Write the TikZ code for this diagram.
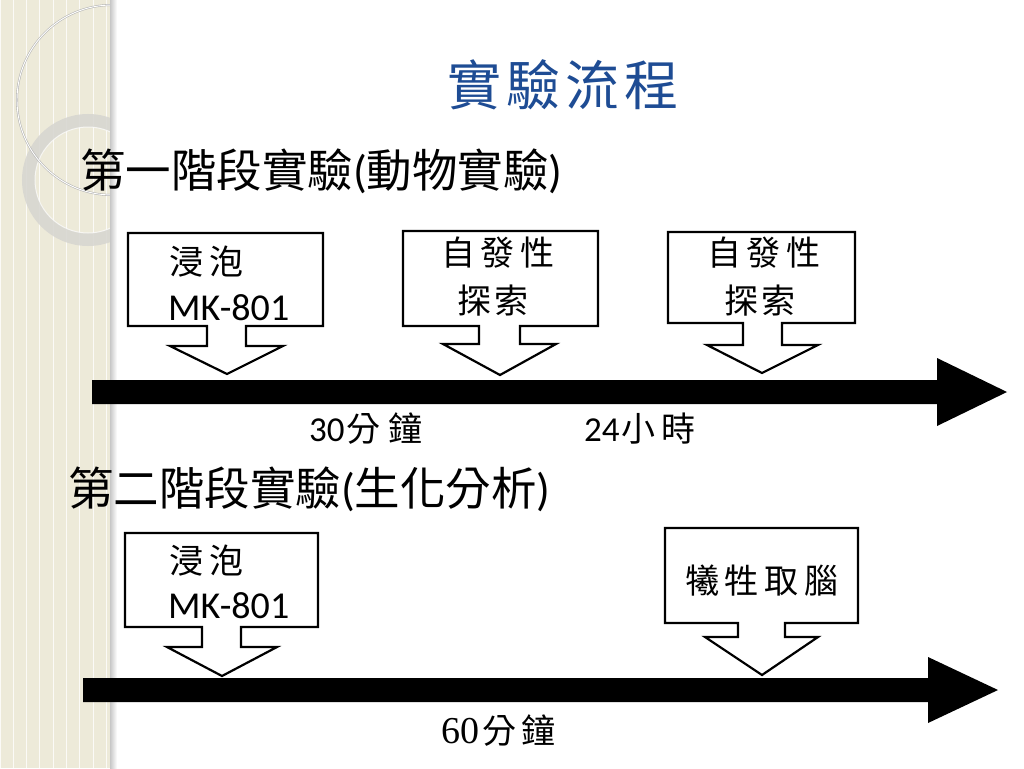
\documentclass[tikz,border=0pt]{standalone}
\usepackage{fontspec}
\setmainfont{Carlito}
\newfontfamily\cjk{Noto Sans CJK TC}
\newfontfamily\numserif{Liberation Serif}
\definecolor{stripbg}{HTML}{EDEAD9}
\definecolor{ringgray}{HTML}{D6D5D0}
\definecolor{titleblue}{HTML}{1E4C94}
\tikzset{
  callout/.style={draw=black, line width=2.2pt, fill=white, line join=miter},
  timeline/.style={fill=black},
  title/.style={font=\cjk\fontsize{54}{60}\selectfont, text=titleblue, inner sep=0pt},
  head/.style={font=\fontsize{45.5}{50}\selectfont, inner sep=0pt},
  boxtxt/.style={font=\cjk\fontsize{34}{40}\selectfont, inner sep=0pt},
  lattxt/.style={font=\fontsize{38}{42}\selectfont, inner sep=0pt},
  numtxt/.style={font=\fontsize{35}{40}\selectfont, inner sep=0pt},
}
\begin{document}
\begin{tikzpicture}[x=1pt,y=-1pt]
\useasboundingbox (0,0) rectangle (1024,768);
\fill[white] (0,0) rectangle (1024,768);
% decorative left strip
\begin{scope}
  \clip (0,0) rectangle (112,768);
  \fill[stripbg] (0,0) rectangle (112,768);
  \draw[white, line width=1.1pt, opacity=0.8] (0,0) grid[step=13.3] (112,768);
  \draw[ringgray, line width=13pt, opacity=0.85] (88,180) circle[radius=59.5];
  \draw[white, line width=1pt, opacity=0.7] (88,180) circle[radius=53];
  \draw[black!30, line width=2pt] (112,100) circle[radius=95];
  \draw[white, line width=0.9pt] (112,100) circle[radius=95];
\end{scope}
\shade[left color=black!22, right color=white] (110,0) rectangle (117,768);
% title
\node[title] (title) at (563,85) {實\kern5pt驗\kern5pt流\kern5pt程};
% stage 1
\node[head, anchor=base west] (h1) at (80,187) {{\cjk 第一階段實驗}({\cjk 動物實驗})};
\fill[timeline] (92,380) -- (937,380) -- (937,358) -- (1007,392) -- (937,426) -- (937,404) -- (92,404) -- cycle;
\draw[callout] (128,233) -- (323,233) -- (323,326) -- (246,326) -- (246,346) -- (283,346) -- (227,374) -- (170,346) -- (207,346) -- (207,326) -- (128,326) -- cycle;
\node[boxtxt, anchor=west] (b1a) at (169,262) {浸\kern6pt泡};
\node[lattxt, anchor=base west] (b1b) at (168,320) {MK-801};
\draw[callout] (403,231) -- (598,231) -- (598,326) -- (520,326) -- (520,344) -- (556,344) -- (500,375) -- (443,344) -- (479,344) -- (479,326) -- (403,326) -- cycle;
\node[boxtxt] (b2a) at (498,253) {自\kern6pt發\kern6pt性};
\node[boxtxt] (b2b) at (493,301) {探\kern3pt索};
\draw[callout] (668,232) -- (855,232) -- (855,323) -- (782,323) -- (782,345) -- (818,345) -- (762,373) -- (707,345) -- (743,345) -- (743,323) -- (668,323) -- cycle;
\node[boxtxt] (b3a) at (764,253) {自\kern6pt發\kern6pt性};
\node[boxtxt] (b3b) at (760,301) {探\kern3pt索};
\node[numtxt, anchor=base west] (t30) at (309,441) {30{\cjk\fontsize{34}{40}\selectfont\kern2pt 分\kern8pt 鐘}};
\node[numtxt, anchor=base west] (t24) at (584,441) {24{\cjk\fontsize{34}{40}\selectfont\kern2pt 小\kern6pt 時}};
% stage 2
\node[head, anchor=base west] (h2) at (68,505) {{\cjk 第二階段實驗}({\cjk 生化分析})};
\fill[timeline] (83,678) -- (928,678) -- (928,657) -- (998,690) -- (928,723) -- (928,702) -- (83,702) -- cycle;
\draw[callout] (125,533) -- (318,533) -- (318,627) -- (241,627) -- (241,647) -- (277,647) -- (222,676) -- (167,647) -- (202,647) -- (202,627) -- (125,627) -- cycle;
\node[boxtxt, anchor=west] (b4a) at (169,561) {浸\kern6pt泡};
\node[lattxt, anchor=base west] (b4b) at (168,618) {MK-801};
\draw[callout] (665,528) -- (858,528) -- (858,623) -- (785,623) -- (785,637) -- (818,637) -- (762,675) -- (705,637) -- (738,637) -- (738,623) -- (665,623) -- cycle;
\node[boxtxt] (b5a) at (762,581) {犧\kern6pt牲\kern6pt取\kern6pt腦};
\node[inner sep=0pt, anchor=base west] (t60) at (441,743) {{\numserif\fontsize{38}{44}\selectfont 60}{\cjk\fontsize{34}{40}\selectfont\kern3pt 分\kern5pt 鐘}};
\end{tikzpicture}
\end{document}
